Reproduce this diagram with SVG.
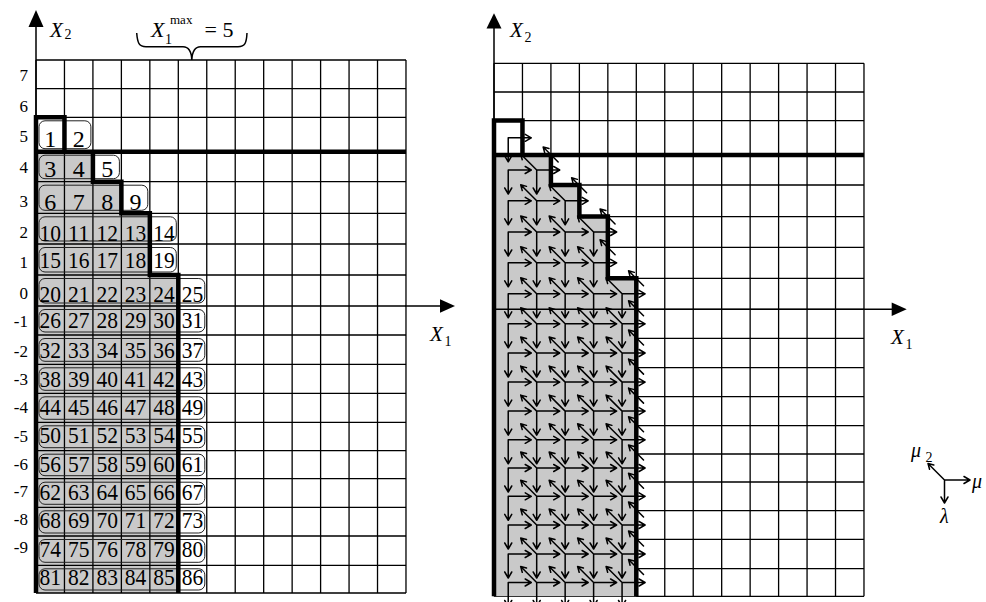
<svg xmlns="http://www.w3.org/2000/svg" width="986" height="602" viewBox="0 0 986 602" font-family="'Liberation Serif', 'Times New Roman', serif">
<style>
.g{fill:none;stroke:#000;stroke-width:1.3}
.t{fill:none;stroke:#000;stroke-width:4.5;stroke-linejoin:miter}
.ax{fill:none;stroke:#000;stroke-width:1.5}
.ar{fill:none;stroke:#000;stroke-width:1.5;stroke-linecap:round;stroke-linejoin:round}
.sh{fill:#c9c9c9}
.bx{fill:none;stroke:#222;stroke-width:1}
text{font-family:"Liberation Serif","Times New Roman",serif;fill:#000}
.n text{font-size:24px;text-anchor:middle}
.rl text{font-size:17px;text-anchor:end}
.it{font-style:italic}
</style>
<defs>
<path id="a0" class="ar" d="M0,0H23M17,-3.5L23,0L17,3.5M0,0V24M-3.5,18L0,24L3.5,18"/>
<path id="a1" class="ar" d="M0,0H23M17,-3.5L23,0L17,3.5M0,0V24M-3.5,18L0,24L3.5,18M0,0L-16,-16M-10.2,-14.45L-16,-16L-14.45,-10.2"/>
<path id="wb" class="ar" d="M-7,-8L-22,-23M-16.2,-21.45L-22,-23L-20.45,-17.2"/>
<g id="fr"><use href="#a0"/><use href="#a1" x="28.46"/><use href="#a1" x="56.92"/><use href="#a1" x="85.38"/><use href="#a1" x="113.84"/><use href="#wb" x="142.3"/></g>
</defs>
<rect width="986" height="602" fill="#fff"/>

<!-- LEFT DIAGRAM -->
<g id="left-grid">
<polygon class="sh" points="36,151.7 92.92,151.7 92.92,181.7 121.38,181.7 121.38,213.3 149.84,213.3 149.84,275 178.3,275 178.3,593 36,593"/>
<path class="g" d="M36,60V593M64.46,60V593M92.92,60V593M121.38,60V593M149.84,60V593M178.3,60V593M206.76,60V593M235.22,60V593M263.68,60V593M292.14,60V593M320.6,60V593M349.06,60V593M377.52,60V593M405.98,60V593"/>
<path class="g" d="M36,60H406M36,88.7H406M36,117.3H406M36,151.7H406M36,181.7H406M36,213.3H406M36,244H406M36,275H406M36,306H406M36,335H406M36,364.3H406M36,393.3H406M36,422.3H406M36,450.7H406M36,478.7H406M36,507.3H406M36,536H406M36,565.3H406M36,593H406"/>
</g>
<g id="left-boxes">
<rect class="bx" x="39" y="120.8" width="51.9" height="27.9" rx="6"/>
<rect class="bx" x="39" y="155.2" width="80.4" height="23.5" rx="6"/>
<rect class="bx" x="39" y="185.2" width="108.8" height="25.1" rx="6"/>
<rect class="bx" x="39" y="216.8" width="137.3" height="24.2" rx="6"/>
<rect class="bx" x="39" y="247.5" width="137.3" height="24.5" rx="6"/>
<rect class="bx" x="39" y="278.5" width="165.8" height="24.5" rx="6"/>
<rect class="bx" x="39" y="309.5" width="165.8" height="22.5" rx="6"/>
<rect class="bx" x="39" y="338.5" width="165.8" height="22.8" rx="6"/>
<rect class="bx" x="39" y="367.8" width="165.8" height="22.5" rx="6"/>
<rect class="bx" x="39" y="396.8" width="165.8" height="22.5" rx="6"/>
<rect class="bx" x="39" y="425.8" width="165.8" height="21.9" rx="6"/>
<rect class="bx" x="39" y="454.2" width="165.8" height="21.5" rx="6"/>
<rect class="bx" x="39" y="482.2" width="165.8" height="22.1" rx="6"/>
<rect class="bx" x="39" y="510.8" width="165.8" height="22.2" rx="6"/>
<rect class="bx" x="39" y="539.5" width="165.8" height="22.8" rx="6"/>
<rect class="bx" x="39" y="568.8" width="165.8" height="21.2" rx="6"/>
</g>
<g id="left-numbers" class="n">
<text x="50.23" y="146.7">1</text><text x="78.69" y="146.7">2</text>
<text x="50.23" y="176.7">3</text><text x="78.69" y="176.7">4</text><text x="107.15" y="176.7">5</text>
<text x="50.23" y="210">6</text><text x="78.69" y="210">7</text><text x="107.15" y="210">8</text><text x="135.61" y="210">9</text>
<text x="50.23" y="240.7" textLength="21.5" lengthAdjust="spacingAndGlyphs">10</text><text x="78.69" y="240.7" textLength="21.5" lengthAdjust="spacingAndGlyphs">11</text><text x="107.15" y="240.7" textLength="21.5" lengthAdjust="spacingAndGlyphs">12</text><text x="135.61" y="240.7" textLength="21.5" lengthAdjust="spacingAndGlyphs">13</text><text x="164.07" y="240.7" textLength="21.5" lengthAdjust="spacingAndGlyphs">14</text>
<text x="50.23" y="268.3" textLength="21.5" lengthAdjust="spacingAndGlyphs">15</text><text x="78.69" y="268.3" textLength="21.5" lengthAdjust="spacingAndGlyphs">16</text><text x="107.15" y="268.3" textLength="21.5" lengthAdjust="spacingAndGlyphs">17</text><text x="135.61" y="268.3" textLength="21.5" lengthAdjust="spacingAndGlyphs">18</text><text x="164.07" y="268.3" textLength="21.5" lengthAdjust="spacingAndGlyphs">19</text>
<text x="50.23" y="301.7" textLength="21.5" lengthAdjust="spacingAndGlyphs">20</text><text x="78.69" y="301.7" textLength="21.5" lengthAdjust="spacingAndGlyphs">21</text><text x="107.15" y="301.7" textLength="21.5" lengthAdjust="spacingAndGlyphs">22</text><text x="135.61" y="301.7" textLength="21.5" lengthAdjust="spacingAndGlyphs">23</text><text x="164.07" y="301.7" textLength="21.5" lengthAdjust="spacingAndGlyphs">24</text><text x="192.53" y="301.7" textLength="21.5" lengthAdjust="spacingAndGlyphs">25</text>
<text x="50.23" y="328.3" textLength="21.5" lengthAdjust="spacingAndGlyphs">26</text><text x="78.69" y="328.3" textLength="21.5" lengthAdjust="spacingAndGlyphs">27</text><text x="107.15" y="328.3" textLength="21.5" lengthAdjust="spacingAndGlyphs">28</text><text x="135.61" y="328.3" textLength="21.5" lengthAdjust="spacingAndGlyphs">29</text><text x="164.07" y="328.3" textLength="21.5" lengthAdjust="spacingAndGlyphs">30</text><text x="192.53" y="328.3" textLength="21.5" lengthAdjust="spacingAndGlyphs">31</text>
<text x="50.23" y="358.3" textLength="21.5" lengthAdjust="spacingAndGlyphs">32</text><text x="78.69" y="358.3" textLength="21.5" lengthAdjust="spacingAndGlyphs">33</text><text x="107.15" y="358.3" textLength="21.5" lengthAdjust="spacingAndGlyphs">34</text><text x="135.61" y="358.3" textLength="21.5" lengthAdjust="spacingAndGlyphs">35</text><text x="164.07" y="358.3" textLength="21.5" lengthAdjust="spacingAndGlyphs">36</text><text x="192.53" y="358.3" textLength="21.5" lengthAdjust="spacingAndGlyphs">37</text>
<text x="50.23" y="386.7" textLength="21.5" lengthAdjust="spacingAndGlyphs">38</text><text x="78.69" y="386.7" textLength="21.5" lengthAdjust="spacingAndGlyphs">39</text><text x="107.15" y="386.7" textLength="21.5" lengthAdjust="spacingAndGlyphs">40</text><text x="135.61" y="386.7" textLength="21.5" lengthAdjust="spacingAndGlyphs">41</text><text x="164.07" y="386.7" textLength="21.5" lengthAdjust="spacingAndGlyphs">42</text><text x="192.53" y="386.7" textLength="21.5" lengthAdjust="spacingAndGlyphs">43</text>
<text x="50.23" y="415" textLength="21.5" lengthAdjust="spacingAndGlyphs">44</text><text x="78.69" y="415" textLength="21.5" lengthAdjust="spacingAndGlyphs">45</text><text x="107.15" y="415" textLength="21.5" lengthAdjust="spacingAndGlyphs">46</text><text x="135.61" y="415" textLength="21.5" lengthAdjust="spacingAndGlyphs">47</text><text x="164.07" y="415" textLength="21.5" lengthAdjust="spacingAndGlyphs">48</text><text x="192.53" y="415" textLength="21.5" lengthAdjust="spacingAndGlyphs">49</text>
<text x="50.23" y="443.3" textLength="21.5" lengthAdjust="spacingAndGlyphs">50</text><text x="78.69" y="443.3" textLength="21.5" lengthAdjust="spacingAndGlyphs">51</text><text x="107.15" y="443.3" textLength="21.5" lengthAdjust="spacingAndGlyphs">52</text><text x="135.61" y="443.3" textLength="21.5" lengthAdjust="spacingAndGlyphs">53</text><text x="164.07" y="443.3" textLength="21.5" lengthAdjust="spacingAndGlyphs">54</text><text x="192.53" y="443.3" textLength="21.5" lengthAdjust="spacingAndGlyphs">55</text>
<text x="50.23" y="471.7" textLength="21.5" lengthAdjust="spacingAndGlyphs">56</text><text x="78.69" y="471.7" textLength="21.5" lengthAdjust="spacingAndGlyphs">57</text><text x="107.15" y="471.7" textLength="21.5" lengthAdjust="spacingAndGlyphs">58</text><text x="135.61" y="471.7" textLength="21.5" lengthAdjust="spacingAndGlyphs">59</text><text x="164.07" y="471.7" textLength="21.5" lengthAdjust="spacingAndGlyphs">60</text><text x="192.53" y="471.7" textLength="21.5" lengthAdjust="spacingAndGlyphs">61</text>
<text x="50.23" y="500" textLength="21.5" lengthAdjust="spacingAndGlyphs">62</text><text x="78.69" y="500" textLength="21.5" lengthAdjust="spacingAndGlyphs">63</text><text x="107.15" y="500" textLength="21.5" lengthAdjust="spacingAndGlyphs">64</text><text x="135.61" y="500" textLength="21.5" lengthAdjust="spacingAndGlyphs">65</text><text x="164.07" y="500" textLength="21.5" lengthAdjust="spacingAndGlyphs">66</text><text x="192.53" y="500" textLength="21.5" lengthAdjust="spacingAndGlyphs">67</text>
<text x="50.23" y="528.3" textLength="21.5" lengthAdjust="spacingAndGlyphs">68</text><text x="78.69" y="528.3" textLength="21.5" lengthAdjust="spacingAndGlyphs">69</text><text x="107.15" y="528.3" textLength="21.5" lengthAdjust="spacingAndGlyphs">70</text><text x="135.61" y="528.3" textLength="21.5" lengthAdjust="spacingAndGlyphs">71</text><text x="164.07" y="528.3" textLength="21.5" lengthAdjust="spacingAndGlyphs">72</text><text x="192.53" y="528.3" textLength="21.5" lengthAdjust="spacingAndGlyphs">73</text>
<text x="50.23" y="556.7" textLength="21.5" lengthAdjust="spacingAndGlyphs">74</text><text x="78.69" y="556.7" textLength="21.5" lengthAdjust="spacingAndGlyphs">75</text><text x="107.15" y="556.7" textLength="21.5" lengthAdjust="spacingAndGlyphs">76</text><text x="135.61" y="556.7" textLength="21.5" lengthAdjust="spacingAndGlyphs">78</text><text x="164.07" y="556.7" textLength="21.5" lengthAdjust="spacingAndGlyphs">79</text><text x="192.53" y="556.7" textLength="21.5" lengthAdjust="spacingAndGlyphs">80</text>
<text x="50.23" y="585" textLength="21.5" lengthAdjust="spacingAndGlyphs">81</text><text x="78.69" y="585" textLength="21.5" lengthAdjust="spacingAndGlyphs">82</text><text x="107.15" y="585" textLength="21.5" lengthAdjust="spacingAndGlyphs">83</text><text x="135.61" y="585" textLength="21.5" lengthAdjust="spacingAndGlyphs">84</text><text x="164.07" y="585" textLength="21.5" lengthAdjust="spacingAndGlyphs">85</text><text x="192.53" y="585" textLength="21.5" lengthAdjust="spacingAndGlyphs">86</text>
</g>
<g id="left-row-labels" class="rl">
<text x="28" y="81">7</text><text x="28" y="111.7">6</text><text x="28" y="141.7">5</text><text x="28" y="173">4</text>
<text x="28" y="206.7">3</text><text x="28" y="238.3">2</text><text x="28" y="268.3">1</text><text x="28" y="299.3">0</text>
<text x="28" y="326.7">-1</text><text x="28" y="356.7">-2</text><text x="28" y="385">-3</text><text x="28" y="413.3">-4</text>
<text x="28" y="441.7">-5</text><text x="28" y="470">-6</text><text x="28" y="496.7">-7</text><text x="28" y="525">-8</text><text x="28" y="552.7">-9</text>
</g>
<g id="left-axes">
<path class="ax" d="M36,26V118M405,306H441"/>
<polygon points="36,10 28.5,27 43.5,27"/>
<polygon points="455,306 440,299.3 440,312.7"/>
<path class="t" d="M36,593V117.3H64.46V151.7M36,151.7H406M92.92,151.7V181.7H121.38V213.3H149.84V275H178.3V593"/>
<text class="it" x="50" y="36.7" font-size="21">X</text><text x="64.5" y="39" font-size="14">2</text>
<text class="it" x="430" y="341" font-size="21">X</text><text x="444.5" y="346" font-size="14">1</text>
</g>
<g id="brace-label">
<path class="ax" d="M136.7,33C137.5,43 139,46.7 146,46.7H183C189,46.7 191.5,52 191.8,60C192.2,52 194.5,46.7 200.5,46.7H238C245,46.7 246.5,43 247,33"/>
<text class="it" x="151" y="36.7" font-size="22">X</text>
<text x="165" y="43.5" font-size="14">1</text>
<text x="170" y="23.5" font-size="13">max</text>
<text x="204.5" y="36.7" font-size="22">= 5</text>
</g>

<!-- RIGHT DIAGRAM -->
<g id="right-grid">
<path class="g" d="M494,63.3V596.3M522.46,63.3V596.3M550.92,63.3V596.3M579.38,63.3V596.3M607.84,63.3V596.3M636.3,63.3V596.3M664.76,63.3V596.3M693.22,63.3V596.3M721.68,63.3V596.3M750.14,63.3V596.3M778.6,63.3V596.3M807.06,63.3V596.3M835.52,63.3V596.3M863.98,63.3V596.3"/>
<path class="g" d="M494,63.3H864M494,92H864M494,120.6H864M494,155H864M494,185H864M494,216.6H864M494,247.3H864M494,278.3H864M494,309.3H864M494,338.3H864M494,367.6H864M494,396.6H864M494,425.6H864M494,454H864M494,482H864M494,510.6H864M494,539.3H864M494,568.6H864M494,596.3H864"/>
<polygon class="sh" points="494,155 550.92,155 550.92,185 579.38,185 579.38,216.6 607.84,216.6 607.84,278.3 636.3,278.3 636.3,596.3 494,596.3"/>
</g>
<g id="right-axes">
<path class="ax" d="M494,28V121M494,309.3H893"/>
<polygon points="494,13.3 486.5,28.5 501.5,28.5"/>
<polygon points="906.7,309.3 891.7,302.6 891.7,316"/>
<path class="t" d="M494,596.3V120.6H522.46V155M494,155H864M550.92,155V185H579.38V216.6H607.84V278.3H636.3V596.3"/>
<text class="it" x="510" y="36.7" font-size="21">X</text><text x="524.5" y="42" font-size="14">2</text>
<text class="it" x="891" y="344" font-size="21">X</text><text x="905.5" y="348.5" font-size="14">1</text>
</g>
<g id="connectors">
<use href="#a0" x="508.23" y="137.8"/>
<use href="#a0" x="508.23" y="170"/><use href="#a1" x="536.69" y="170"/><use href="#wb" x="565.15" y="170"/>
<use href="#a0" x="508.23" y="200.8"/><use href="#a1" x="536.69" y="200.8"/><use href="#a1" x="565.15" y="200.8"/><use href="#wb" x="593.61" y="200.8"/>
<use href="#a0" x="508.23" y="232"/><use href="#a1" x="536.69" y="232"/><use href="#a1" x="565.15" y="232"/><use href="#a1" x="593.61" y="232"/><use href="#wb" x="622.07" y="232"/>
<use href="#a0" x="508.23" y="262.8"/><use href="#a1" x="536.69" y="262.8"/><use href="#a1" x="565.15" y="262.8"/><use href="#a1" x="593.61" y="262.8"/><use href="#wb" x="622.07" y="262.8"/>
<use href="#fr" x="508.23" y="293.8"/>
<use href="#fr" x="508.23" y="323.8"/>
<use href="#fr" x="508.23" y="353"/>
<use href="#fr" x="508.23" y="382.1"/>
<use href="#fr" x="508.23" y="411.1"/>
<use href="#fr" x="508.23" y="439.8"/>
<use href="#fr" x="508.23" y="468"/>
<use href="#fr" x="508.23" y="496.3"/>
<use href="#fr" x="508.23" y="525"/>
<use href="#fr" x="508.23" y="554"/>
<use href="#fr" x="508.23" y="582.5"/>
</g>
<g id="legend">
<path class="ar" d="M944.5,480H970M964,476.5L970,480L964,483.5M944.5,480V503M941,497L944.5,503L948,497M944.5,480L928,463.5M933.8,465.05L928,463.5L929.55,469.3"/>
<text class="it" x="911" y="457" font-size="20">μ</text><text x="925.5" y="462" font-size="14">2</text>
<text class="it" x="972" y="488" font-size="20">μ</text>
<text class="it" x="940" y="523" font-size="20">λ</text>
</g>
</svg>
